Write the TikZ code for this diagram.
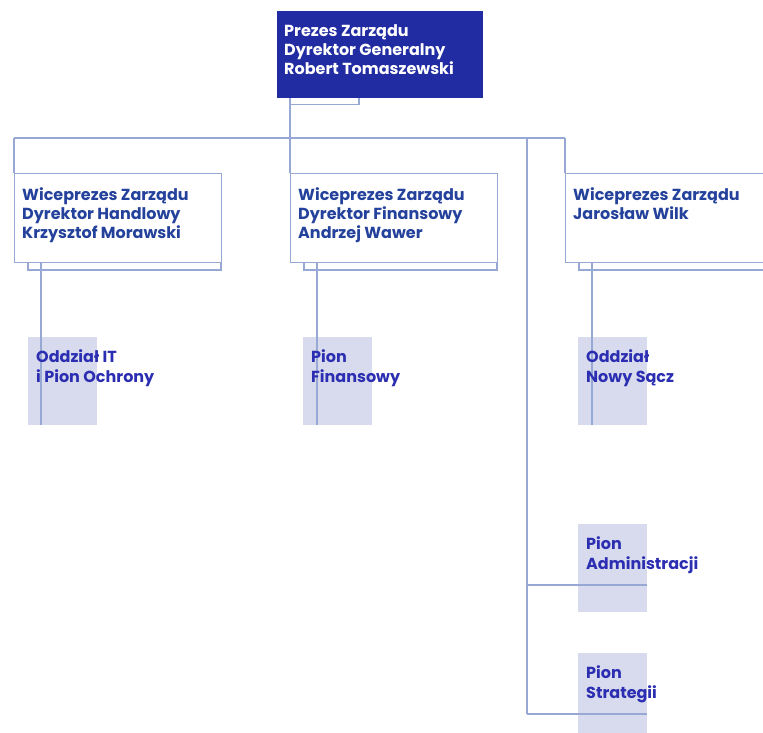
\documentclass[tikz,border=0pt]{standalone}
\usepackage{fontspec}
\setmainfont{Poppins}[BoldFont=Poppins Bold]
\usepackage{tikz}
\definecolor{ceoblue}{RGB}{34,44,162}
\definecolor{vpblue}{RGB}{36,66,156}
\definecolor{unitblue}{RGB}{44,46,178}
\definecolor{unitfill}{RGB}{216,219,237}
\definecolor{wire}{RGB}{152,168,213}
\usetikzlibrary{positioning,calc}

\tikzset{
  conn/.style={draw=wire, line width=1.1pt},
  ceobox/.style={fill=ceoblue, draw=none, anchor=north west, inner sep=0pt,
    minimum width=206pt, minimum height=87pt},
  vpbox/.style={draw=wire, line width=1.1pt, fill=white, anchor=north west, inner sep=0pt,
    minimum width=207pt, minimum height=89pt},
  unitbox/.style={fill=unitfill, draw=none, anchor=north west, inner sep=0pt,
    minimum width=69pt, minimum height=88pt},
  ceotext/.style={anchor=north west, align=left, inner sep=0pt, text=white,
    font=\fontsize{16}{19}\selectfont\bfseries},
  vptext/.style={anchor=north west, align=left, inner sep=0pt, text=vpblue,
    font=\fontsize{16}{19}\selectfont\bfseries},
  unittext/.style={anchor=north west, align=left, inner sep=0pt, text=unitblue,
    font=\fontsize{16}{20}\selectfont\bfseries}
}

\begin{document}
\begin{tikzpicture}[x=1pt,y=-1pt]
    \useasboundingbox (0,0) rectangle (763,733);
    \clip (0,0) rectangle (763,733);

    % Units (light boxes)
    \node[unitbox] (it) at (28,337) {};
    \node[unitbox] (fin) at (303,337) {};
    \node[unitbox] (ns) at (578,337) {};
    \node[unitbox] (adm) at (578,524) {};
    \node[unitbox] (str) at (578,653) {};

    % Bus
    \coordinate (busl) at (14,138);
    \coordinate (busm) at (290,138);
    \coordinate (busr) at (565,138);
    \coordinate (busx) at (527,138);
    \draw[conn] (busl) -- (busr);

    % Top box with its shadow
    \node[ceobox] (ceo) at (277,11) {};
    \draw[conn] ($(ceo.south west)+(13,0)$) |- ($(ceo.south west)+(82,6)$) -- ($(ceo.south west)+(82,0)$);
    \draw[conn] ($(ceo.south west)+(13,0)$) -- (busm);

    % Vice presidents: shadows first, then boxes
    \foreach \name/\x in {vph/14, vpf/290, vpw/565}{
      \draw[conn] (\x+14,262) |- (\x+207,270) -- (\x+207,262);
      \node[vpbox] (\name) at (\x,173) {};
    }
    \draw[conn] (busl) -- (vph.north west);
    \draw[conn] (busm) -- (vpf.north west);
    \draw[conn] (busr) -- (vpw.north west);

    % Lines down to the units
    \draw[conn] ($(vph.south west)+(27,0)$) -- (it.south -| {$(vph.south west)+(27,0)$});
    \draw[conn] ($(vpf.south west)+(27,0)$) -- (fin.south -| {$(vpf.south west)+(27,0)$});
    \draw[conn] ($(vpw.south west)+(27,0)$) -- (ns.south -| {$(vpw.south west)+(27,0)$});

    % Staff units on the right
    \coordinate (admj) at (527,585);
    \coordinate (strj) at (527,714);
    \draw[conn] (busx) -- (strj);
    \draw[conn] (admj) -- (adm.east |- admj);
    \draw[conn] (strj) -- (str.east |- strj);

    % Texts
    \node[ceotext] (ceot) at ($(ceo.north west)+(7,13)$) {Prezes Zarządu\\Dyrektor Generalny\\Robert Tomaszewski};
    \node[vptext] (vpht) at ($(vph.north west)+(8,14)$) {Wiceprezes Zarządu\\Dyrektor Handlowy\\Krzysztof Morawski};
    \node[vptext] (vpft) at ($(vpf.north west)+(8,14)$) {Wiceprezes Zarządu\\Dyrektor Finansowy\\Andrzej Wawer};
    \node[vptext] (vpwt) at ($(vpw.north west)+(8,14)$) {Wiceprezes Zarządu\\Jarosław Wilk};
    \node[unittext] (itt) at ($(it.north west)+(8,12)$) {Oddział IT\\i Pion Ochrony};
    \node[unittext] (fint) at ($(fin.north west)+(8,12)$) {Pion\\Finansowy};
    \node[unittext] (nst) at ($(ns.north west)+(8,12)$) {Oddział\\Nowy Sącz};
    \node[unittext] (admt) at ($(adm.north west)+(8,12)$) {Pion\\Administracji};
    \node[unittext] (strt) at ($(str.north west)+(8,12)$) {Pion\\Strategii};
\end{tikzpicture}
\end{document}
